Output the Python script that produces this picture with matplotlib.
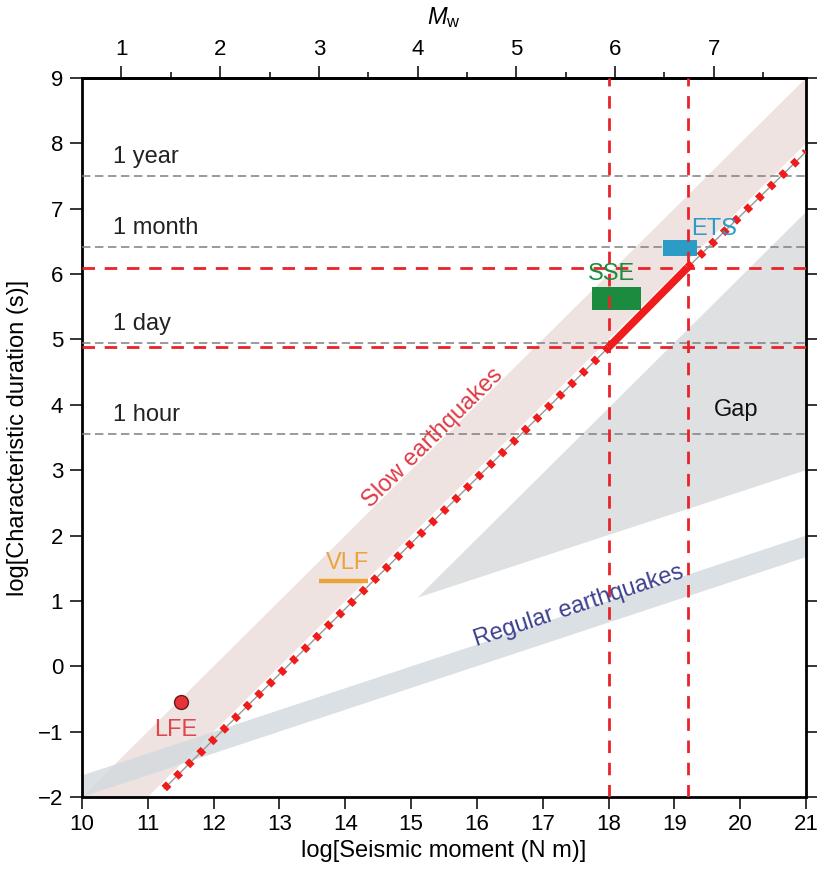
import matplotlib
matplotlib.use("Agg")
import matplotlib.pyplot as plt
from matplotlib.ticker import MultipleLocator

plt.rcParams.update({
    "font.family": ["Liberation Sans", "DejaVu Sans"],
    "font.size": 16,
    "mathtext.fontset": "custom",
    "mathtext.rm": "Liberation Sans",
    "mathtext.it": "Liberation Sans:italic",
    "axes.linewidth": 2.0,
})

# shaded regions (log M0, log T)
slow_band_x = [10.0, 11.0, 21.0, 21.0]
slow_band_y = [-2.0, -2.0, 8.0, 9.0]
reg_band_x = [10.0, 21.0, 21.0, 10.0]
reg_band_y = [-2.0, 1.67, 2.0, -1.67]
gap_x = [15.1, 21.0, 21.0]
gap_y = [1.05, 3.0, 6.95]

# scaling line for slow earthquakes
slow_x = [11.25, 18.0, 19.2, 21.0]
slow_y = [-1.87, 4.88, 6.10, 7.87]

# reference durations
dur_y = [7.50, 6.41, 4.94, 3.56]
dur_labels = ["1 year", "1 month", "1 day", "1 hour"]

# red guide lines
red_h = [6.10, 4.88]
red_v = [18.0, 19.2]

# observations
sse_x = [17.75, 18.50]
sse_y = [5.45, 5.80]
ets_x = [18.82, 19.35]
ets_y = [6.27, 6.52]
vlf_x = [13.6, 14.35]
vlf_y = 1.30
lfe_x, lfe_y = 11.5, -0.54

mw_ticks = [1, 2, 3, 4, 5, 6, 7]

fig = plt.figure(figsize=(8.17, 8.69), dpi=100)
ax = fig.add_axes([82 / 817, 72 / 869, 724 / 817, 719 / 869])

ax.fill(slow_band_x, slow_band_y, color="#efe3e1", lw=0, zorder=1)
ax.fill(reg_band_x, reg_band_y, color="#d3d9de", alpha=0.8, lw=0, zorder=2)
ax.fill(gap_x, gap_y, color="#dfe0e1", lw=0, zorder=1)

for y, lab in zip(dur_y, dur_labels):
    ax.axhline(y, color="#7f7f7f", lw=1.1, dashes=(5.5, 3), zorder=3)
    ax.text(10.47, y + 0.29, lab, ha="left", va="center", fontsize=17, color="#222222", zorder=6)

ax.add_patch(plt.Rectangle((sse_x[0], sse_y[0]), sse_x[1] - sse_x[0], sse_y[1] - sse_y[0],
                           color="#1b8c3f", lw=0, zorder=4))
ax.add_patch(plt.Rectangle((ets_x[0], ets_y[0]), ets_x[1] - ets_x[0], ets_y[1] - ets_y[0],
                           color="#2a9cc6", lw=0, zorder=4))

for y in red_h:
    ax.axhline(y, color="#e8232b", lw=2.0, dashes=(4.5, 3.5), zorder=5)
for x in red_v:
    ax.axvline(x, color="#e8232b", lw=2.0, dashes=(4.5, 3.5), zorder=5)

# slow earthquake scaling: dotted outside the observed range, solid between
ax.plot(slow_x, slow_y, color="#999999", lw=1.0, zorder=6)
for i in (0, 2):
    ax.plot(slow_x[i:i + 2], slow_y[i:i + 2], color="#f01c1c", lw=5.6, dashes=(0.8, 1.3),
            dash_capstyle="butt", zorder=7)
ax.plot(slow_x[1:3], slow_y[1:3], color="#f01c1c", lw=5.5, solid_capstyle="butt", zorder=7)

ax.plot(vlf_x, [vlf_y, vlf_y], color="#eda23a", lw=3.2, solid_capstyle="butt", zorder=6)
ax.plot(lfe_x, lfe_y, "o", ms=10, mfc="#e8323a", mec="#6a1a1a", mew=1.0, zorder=7)

ax.text(11.43, -0.98, "LFE", color="#e0454c", fontsize=17, ha="center", va="center", zorder=8)
ax.text(14.03, 1.58, "VLF", color="#eda23a", fontsize=17, ha="center", va="center", zorder=8)
ax.text(18.05, 6.00, "SSE", color="#1b8c3f", fontsize=17, ha="center", va="center", zorder=8)
ax.text(19.6, 6.69, "ETS", color="#2a9cc6", fontsize=17, ha="center", va="center", zorder=8)
ax.text(19.94, 3.92, "Gap", color="#111111", fontsize=17, ha="center", va="center", zorder=8)
ax.text(15.33, 3.49, "Slow earthquakes", color="#e03a45", fontsize=17, rotation=44.8,
        ha="center", va="center", rotation_mode="anchor", zorder=8)
ax.text(17.55, 0.92, "Regular earthquakes", color="#3c4190", fontsize=17, rotation=18.3,
        ha="center", va="center", rotation_mode="anchor", zorder=8)

ax.set_xlim(10, 21)
ax.set_ylim(-2, 9)
ax.set_xticks(range(10, 22))
ax.set_yticks(range(-2, 10))
ax.tick_params(axis="both", which="major", direction="out", length=8.5, width=1.1,
               labelsize=16, pad=4)
ax.tick_params(axis="y", right=True, pad=5)
ax.set_xlabel("log[Seismic moment (N m)]", fontsize=17, labelpad=3)
ax.set_ylabel("log[Characteristic duration (s)]", fontsize=17, labelpad=6)

top = ax.secondary_xaxis("top", functions=(lambda m: 2 / 3 * (m - 9.1),
                                           lambda w: 1.5 * w + 9.1))
top.set_xticks(mw_ticks)
top.xaxis.set_minor_locator(MultipleLocator(0.5))
top.tick_params(which="major", direction="out", length=9, width=1.1, labelsize=16, pad=4)
top.tick_params(which="minor", direction="out", length=4.5, width=1.1)
top.set_xlabel("$M_\\mathrm{w}$", fontsize=17, labelpad=11)

plt.savefig("out.png", dpi=100)
